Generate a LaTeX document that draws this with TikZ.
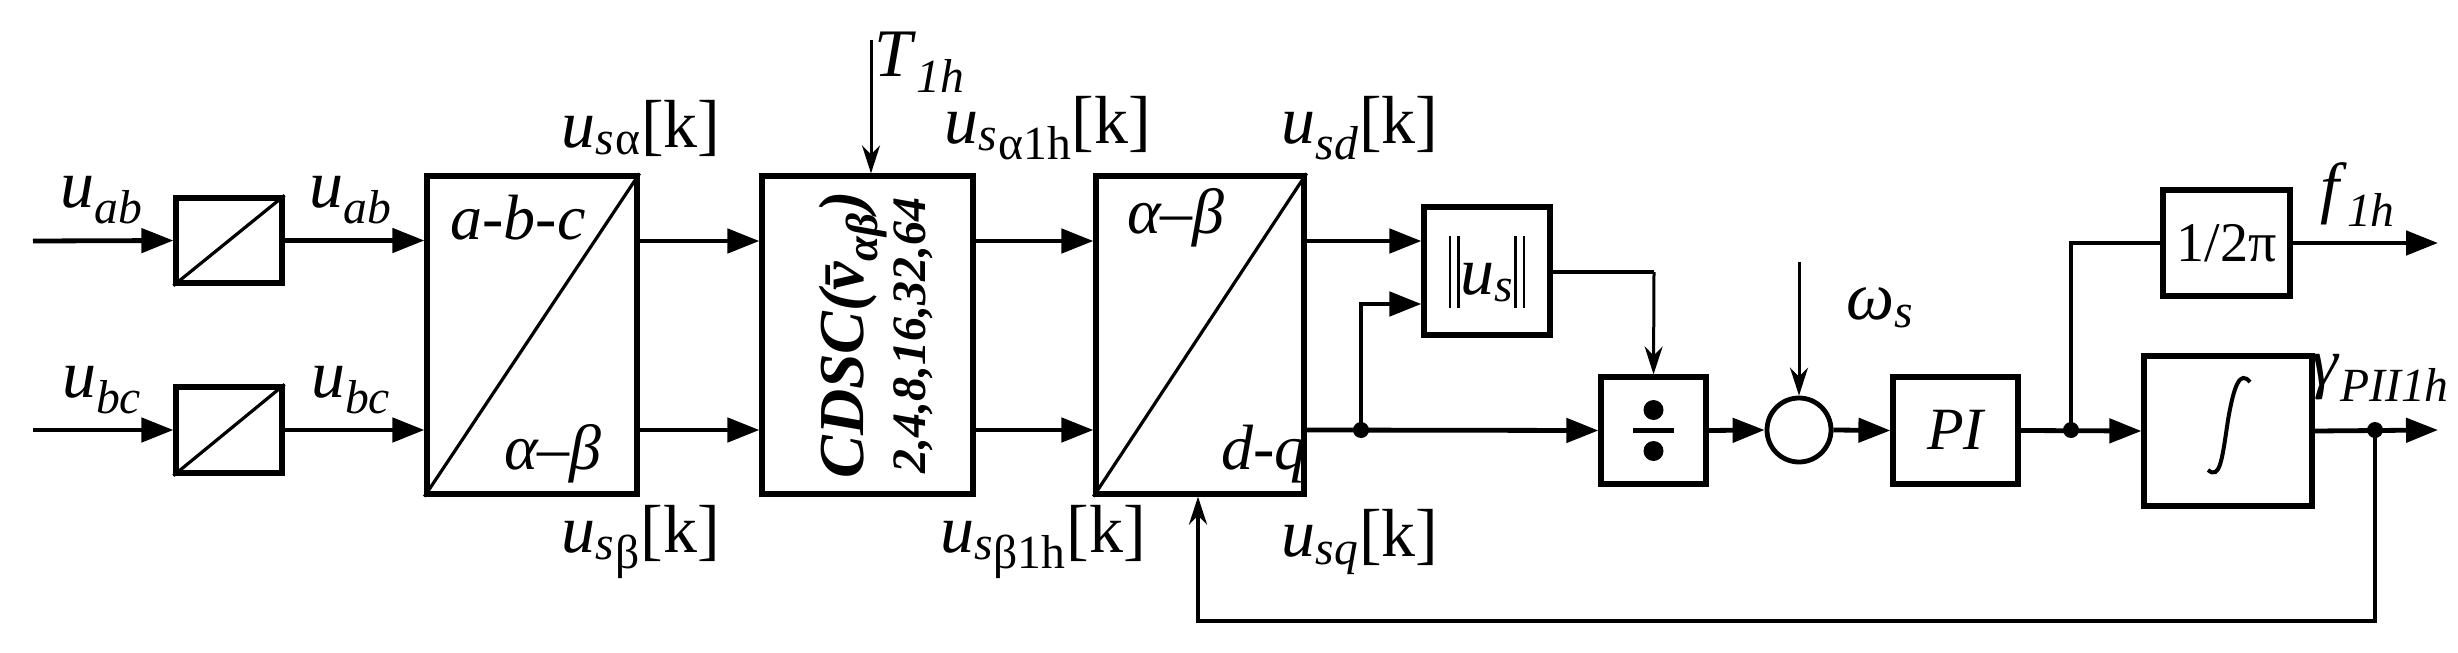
\documentclass[tikz,border=0pt]{standalone}
\usepackage{fontspec}
\setmainfont{Liberation Serif}
\usetikzlibrary{arrows.meta}
\newcommand{\vl}[2]{\textit{#1}\textsubscript{\itshape #2}}
\newcommand{\nbar}{\rule[-0.2em]{1.4pt}{1.05em}\hspace{3pt}\rule[-0.2em]{1.4pt}{1.05em}}
\begin{document}
\begin{tikzpicture}[x=0.5pt,y=-0.5pt,
  blk/.style={draw,line width=2.6pt,inner sep=0pt},
  ln/.style={line width=2.4pt},
  ar/.style={ln,-{Triangle[length=16pt,width=12pt]}},
  tar/.style={line width=1.5pt,-{Stealth[length=14pt,width=9pt]}},
  lab/.style={inner sep=0pt,font=\fontsize{34}{34}\selectfont},
  slab/.style={inner sep=0pt,font=\fontsize{32}{32}\selectfont\itshape},
  dot/.style={circle,fill,inner sep=0pt,minimum size=8pt}]
\useasboundingbox (0,0) rectangle (2458,653);
% blocks
\node[blk,minimum width=53pt,minimum height=42.5pt] (b1) at (229,240.5) {};
\node[blk,minimum width=53pt,minimum height=43pt] (b2) at (229,430) {};
\node[blk,minimum width=105pt,minimum height=159pt] (abc) at (532,335) {};
\node[blk,minimum width=105.5pt,minimum height=159pt] (cdsc) at (867.5,335) {};
\node[blk,minimum width=104pt,minimum height=159pt] (dq) at (1200,335) {};
\node[blk,minimum width=63pt,minimum height=64pt] (us) at (1487,271) {};
\node[blk,minimum width=52.5pt,minimum height=53.5pt] (div) at (1653.5,430.5) {};
\node[draw,circle,line width=2.4pt,minimum size=32pt,inner sep=0pt] (sum) at (1799,430) {};
\node[blk,minimum width=62.5pt,minimum height=53.5pt] (pi) at (1955.5,430.5) {};
\node[blk,minimum width=63.5pt,minimum height=53pt] (k2p) at (2226.5,243) {};
\node[blk,minimum width=84pt,minimum height=75pt] (int) at (2228,431) {};
% diagonals
\foreach \b in {b1,b2,abc,dq} \draw[line width=1.6pt] (\b.south west) -- (\b.north east);
% inner texts
\node[slab] at (518,218) {a-b-c};
\node[slab] at (553,454) {α–β};
\node[slab] at (1176,218) {α–β};
\node[slab] at (1264,454) {d-q};
\node[lab,rotate=90,align=center,font=\bfseries\itshape] at (876,335)
  {\fontsize{32}{30}\selectfont CDSC(\={v}\textsubscript{αβ})\\[2pt]\fontsize{24}{24}\selectfont 2,4,8,16,32,64};
\node[lab] at (1487,272) {\nbar\vl{u}{s}\nbar};
\node[dot,minimum size=10pt] at (1653.5,410) {};
\node[dot,minimum size=10pt] at (1653.5,451) {};
\draw[line width=2.6pt] (1633,430.5) -- (1674,430.5);
\node[lab,font=\fontsize{30}{30}\selectfont\itshape] at (1955.5,430) {PI};
\node[lab,font=\fontsize{28}{28}\selectfont] at (2226.5,243) {1/2π};
\draw[line width=2pt] (2208,470) .. controls (2220,480) and (2222,460) .. (2228,420) .. controls (2234,385) and (2240,370) .. (2250,382);
% connectors
\coordinate (i1) at (33,241); \coordinate (i2) at (33,430);
\draw[ar] (i1) -- (b1.west);
\draw[ar] (i2) -- (b2.west);
\draw[ar] (b1.east) -- (abc.west |- b1.east);
\draw[ar] (b2.east) -- (abc.west |- b2.east);
\draw[ar] (abc.east |- 0,241) -- (cdsc.west |- 0,241);
\draw[ar] (abc.east |- 0,430) -- (cdsc.west |- 0,430);
\draw[ar] (cdsc.east |- 0,241) -- (dq.west |- 0,241);
\draw[ar] (cdsc.east |- 0,430) -- (dq.west |- 0,430);
\coordinate (t1) at (871,40);
\draw[tar] (t1) -- (cdsc.north -| t1);
\draw[ar] (dq.east |- 0,241) -- (us.west |- 0,241);
\node[dot] (j1) at (1361,430) {};
\draw[ar] (dq.east |- 0,430) -- (div.west);
\draw[ar] (j1.center) -- (1361,304) -- (us.west |- 0,304);
\draw[ln] (us.east |- 0,272) -- (1654,272);
\draw[tar] (1654,272) -- (div.north);
\draw[ar] (div.east) -- (sum.west);
\coordinate (w1) at (1799,262);
\draw[tar] (w1) -- (sum.north);
\draw[ar] (sum.east) -- (pi.west);
\node[dot] (j2) at (2071,430) {};
\draw[ar] (pi.east) -- (int.west);
\draw[ln] (j2.center) -- (2071,243) -- (k2p.west);
\coordinate (o1) at (2438,243); \coordinate (o2) at (2438,430);
\draw[ar] (k2p.east) -- (o1);
\draw[ar] (int.east) -- (o2);
\node[dot] (j3) at (2375,430) {};
\draw[tar,line width=2pt] (j3.center) -- (2375,621) -- (1198,621) -- (dq.south -| 1198,0);
% labels
\node[lab] at (102,200) {\vl{u}{ab}};
\node[lab] at (351,200) {\vl{u}{ab}};
\node[lab] at (102,390) {\vl{u}{bc}};
\node[lab] at (351,390) {\vl{u}{bc}};
\node[lab] at (641,128) {\vl{u}{s}\textsubscript{α}[k]};
\node[lab] at (641,542) {\vl{u}{s}\textsubscript{β}[k]};
\node[lab] at (920,62) {\vl{T}{1h}};
\node[lab] at (1048,128) {\vl{u}{s}\textsubscript{α1h}[k]};
\node[lab] at (1043,542) {\vl{u}{s}\textsubscript{β1h}[k]};
\node[lab] at (1360,128) {\vl{u}{sd}[k]};
\node[lab] at (1360,542) {\vl{u}{sq}[k]};
\node[lab] at (1880,308) {\vl{ω}{s}};
\node[lab] at (2358,195) {\vl{f}{1h}};
\node[lab,anchor=east] at (2450,378) {\vl{γ}{PII1h}};
\end{tikzpicture}
\end{document}
